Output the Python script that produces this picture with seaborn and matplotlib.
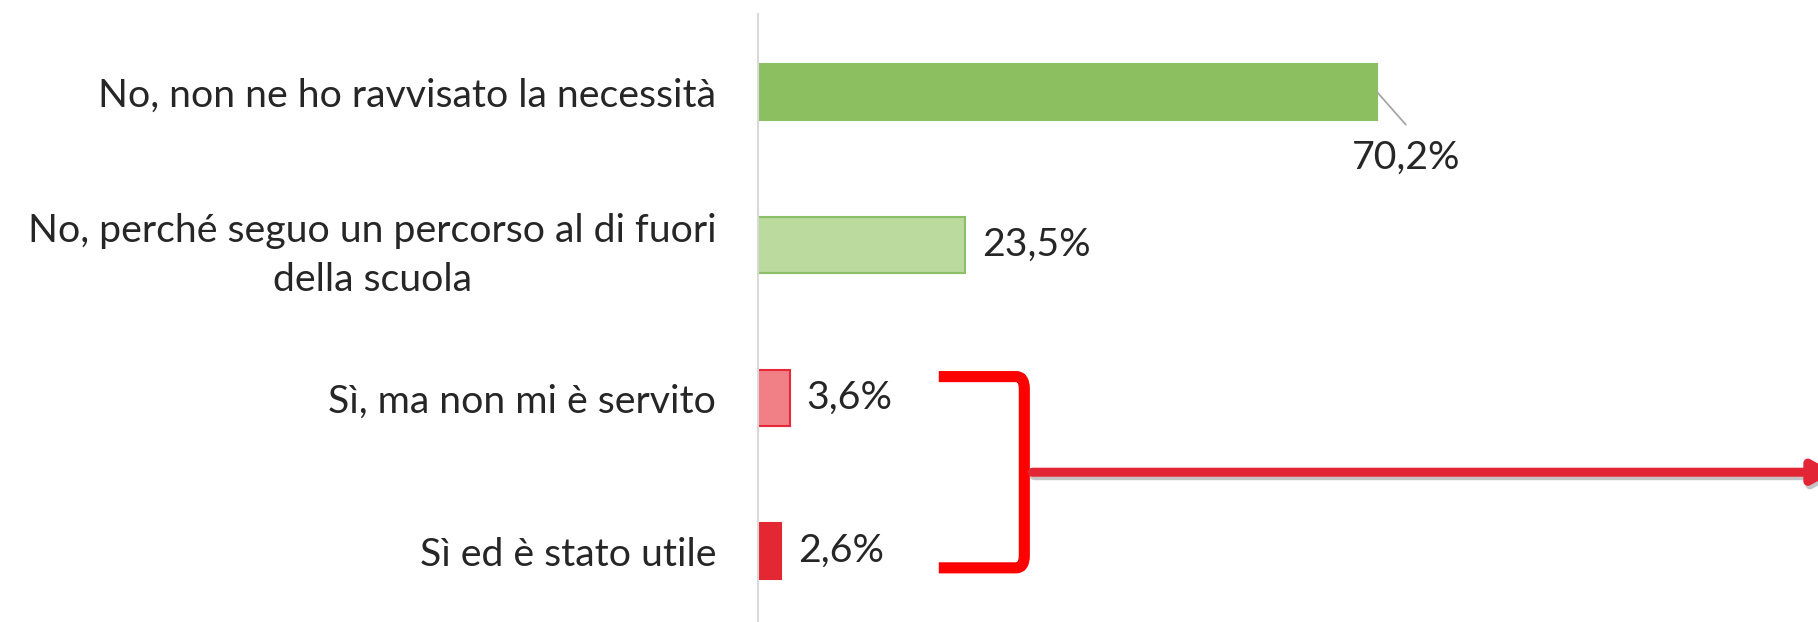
import matplotlib
matplotlib.use("Agg")
import matplotlib.pyplot as plt
import matplotlib.patheffects as pe
from matplotlib.path import Path
from matplotlib.patches import PathPatch
import seaborn as sns
import pandas as pd

# Survey answers and their shares (%)
categories = [
    "No, non ne ho ravvisato la necessità",
    "No, perché seguo un percorso al di fuori\ndella scuola",
    "Sì, ma non mi è servito",
    "Sì ed è stato utile",
]
values = [70.2, 23.5, 3.6, 2.6]
value_labels = ["70,2%", "23,5%", "3,6%", "2,6%"]

fill_colors = ["#8CBF60", "#BBDA9D", "#F08085", "#E32733"]
edge_colors = ["#8CBF60", "#8CC068", "#E8283A", "#E32733"]

sns.set_theme(style="white")
plt.rcParams["font.family"] = ["Lato", "DejaVu Sans"]
TEXT = "#262626"
FS = 28.3

df = pd.DataFrame({"answer": categories, "share": values})

fig = plt.figure(figsize=(18.18, 6.22), dpi=100)
ax = fig.add_axes([758 / 1818, 0.0, 1 - 758 / 1818, 1 - 14 / 622])

sns.barplot(data=df, y="answer", x="share", hue="answer",
            palette=fill_colors, saturation=1, orient="h", width=0.366,
            legend=False, ax=ax, linewidth=1.5)
for patch, ec in zip(ax.patches, edge_colors):
    patch.set_edgecolor(ec)

ax.set_xlim(0, 120.2)
ax.set_ylim(3.464, -0.51)
ax.set_xlabel("")
ax.set_ylabel("")
ax.set_xticks([])
for side in ["top", "right", "bottom"]:
    ax.spines[side].set_visible(False)
ax.spines["left"].set_color("#D9D9D9")
ax.spines["left"].set_linewidth(1.5)

ax.tick_params(axis="y", length=0, pad=30)
for lbl in ax.get_yticklabels():
    lbl.set_fontsize(FS)
    lbl.set_color(TEXT)
    lbl.set_multialignment("center")
    lbl.set_linespacing(1.45)

# Value labels: the largest bar gets a leader line to a label below its end
lead_x, lead_y = values[0] + 3.3, 0.216
ax.plot([values[0], lead_x], [0.0, lead_y], color="#A6A6A6", lw=1.3,
        solid_capstyle="butt")
ax.text(lead_x, 0.43, value_labels[0], fontsize=FS, color=TEXT,
        ha="center", va="center")
for i in range(1, len(values)):
    ax.annotate(value_labels[i], xy=(values[i], i), xytext=(17, 0),
                textcoords="offset pixels", fontsize=FS, color=TEXT,
                ha="left", va="center")

# Bracket grouping the two "Sì" answers
x0, x1, r = 20.5, 30.2, 0.9
y_top, y_bot = 1.86, 3.11
ry = 0.08
verts = [(x0, y_top), (x1 - r, y_top), (x1, y_top), (x1, y_top + ry),
         (x1, y_bot - ry), (x1, y_bot), (x1 - r, y_bot), (x0, y_bot)]
codes = [Path.MOVETO, Path.LINETO, Path.CURVE3, Path.CURVE3,
         Path.LINETO, Path.CURVE3, Path.CURVE3, Path.LINETO]
ax.add_patch(PathPatch(Path(verts, codes), facecolor="none", edgecolor="#FF0000",
                       lw=8, capstyle="butt", joinstyle="round", clip_on=False))

# Arrow pointing out of the bracket
y_mid = (y_top + y_bot) / 2
ax.annotate("", xy=(122.0, y_mid), xytext=(31.1, y_mid), annotation_clip=False,
            arrowprops=dict(arrowstyle="-|>,head_length=1.0,head_width=0.55",
                            color="#E32636", lw=6.5, shrinkA=0, shrinkB=0,
                            path_effects=[pe.SimpleLineShadow(offset=(1.5, -2.5),
                                                              shadow_color="#7F7F7F",
                                                              alpha=0.45),
                                          pe.Normal()]))

fig.savefig("out.png", dpi=100, facecolor="white")
